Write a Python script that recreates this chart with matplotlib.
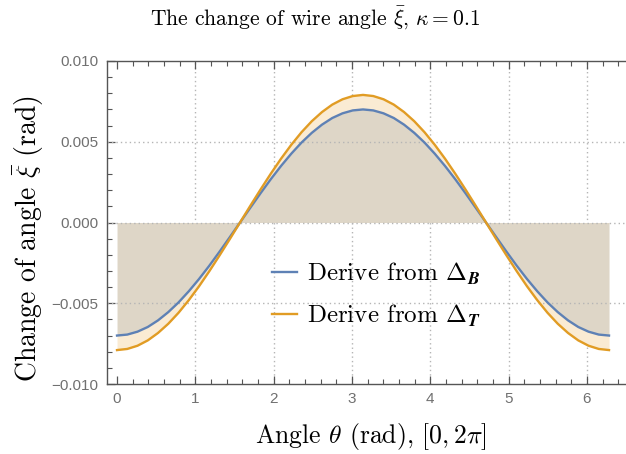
"""Wire-angle change over one turn, kappa = 0.1."""

import matplotlib

matplotlib.use("Agg")
import matplotlib.pyplot as plt
import numpy as np
from matplotlib.ticker import FixedLocator, FuncFormatter, MultipleLocator

# angle samples over [0, 2pi], 7.5 degree steps
theta = np.linspace(0.0, 2 * np.pi, 49)

# (rad)
xi_from_b = [
    -0.00700, -0.00694, -0.00676, -0.00647, -0.00606, -0.00555, -0.00495, -0.00426,
    -0.00350, -0.00268, -0.00181, -0.00091, 0.00000, 0.00091, 0.00181, 0.00268,
    0.00350, 0.00426, 0.00495, 0.00555, 0.00606, 0.00647, 0.00676, 0.00694,
    0.00700, 0.00694, 0.00676, 0.00647, 0.00606, 0.00555, 0.00495, 0.00426,
    0.00350, 0.00268, 0.00181, 0.00091, 0.00000, -0.00091, -0.00181, -0.00268,
    -0.00350, -0.00426, -0.00495, -0.00555, -0.00606, -0.00647, -0.00676, -0.00694,
    -0.00700,
]
xi_from_t = [
    -0.00790, -0.00783, -0.00763, -0.00730, -0.00684, -0.00627, -0.00559, -0.00481,
    -0.00395, -0.00302, -0.00204, -0.00103, 0.00000, 0.00103, 0.00204, 0.00302,
    0.00395, 0.00481, 0.00559, 0.00627, 0.00684, 0.00730, 0.00763, 0.00783,
    0.00790, 0.00783, 0.00763, 0.00730, 0.00684, 0.00627, 0.00559, 0.00481,
    0.00395, 0.00302, 0.00204, 0.00103, 0.00000, -0.00103, -0.00204, -0.00302,
    -0.00395, -0.00481, -0.00559, -0.00627, -0.00684, -0.00730, -0.00763, -0.00783,
    -0.00790,
]
labels = [r"Derive from $\Delta_{\boldsymbol{B}}$", r"Derive from $\Delta_{\boldsymbol{T}}$"]

x_ticks = [0, 1, 2, 3, 4, 5, 6]
y_ticks = [-0.010, -0.005, 0.000, 0.005, 0.010]

BLUE = "#5e81b5"
ORANGE = "#e19c24"
AXIS = "#555555"

plt.rcParams["mathtext.fontset"] = "cm"

fig = plt.figure(figsize=(6.26, 4.54), dpi=100)
ax = fig.add_axes([107 / 626, 1 - 384 / 454, 519 / 626, 323 / 454])

xi_b = np.array(xi_from_b)
xi_t = np.array(xi_from_t)
ax.fill_between(theta, 0, xi_b, color="#ded6c7", lw=0, zorder=1)
ax.fill_between(theta, xi_b, xi_t, color="#faebd3", lw=0, zorder=1)

# dotted grid, skipping the frame edges
for gx in [1, 2, 3, 4, 5, 6]:
    ax.axvline(gx, color="#b5b5b5", ls=(0, (1, 2.2)), lw=1.0, zorder=0.5)
for gy in [-0.005, 0.0, 0.005]:
    ax.axhline(gy, color="#b5b5b5", ls=(0, (1, 2.2)), lw=1.0, zorder=2)

ax.plot(theta, xi_from_b, color=BLUE, lw=1.7, label=labels[0], zorder=3)
ax.plot(theta, xi_from_t, color=ORANGE, lw=1.7, label=labels[1], zorder=3)

ax.set_xlim(-0.128, 6.5)
ax.set_ylim(-0.010, 0.010)

ax.xaxis.set_major_locator(FixedLocator(x_ticks))
ax.xaxis.set_minor_locator(MultipleLocator(0.2))
ax.yaxis.set_major_locator(FixedLocator(y_ticks))
ax.yaxis.set_minor_locator(MultipleLocator(0.001))
ax.yaxis.set_major_formatter(FuncFormatter(lambda v, _: f"{v:.3f}".replace("-", "\u2212")))

ax.tick_params(which="both", direction="in", top=True, right=False, color=AXIS,
               labelcolor="#707070", labelsize=11, pad=6)
ax.tick_params(which="major", length=6, width=0.9)
ax.tick_params(which="minor", length=3.5, width=0.8)
for lab in ax.get_xticklabels() + ax.get_yticklabels():
    lab.set_fontfamily("Liberation Sans")

ax.spines["right"].set_visible(False)
for side in ("left", "bottom", "top"):
    ax.spines[side].set_color(AXIS)
    ax.spines[side].set_linewidth(1.0)

fig.text(315 / 626, 1 - 18 / 454, r"The change of wire angle $\bar{\xi}$, $\kappa = 0.1$",
         family="cmr10", fontsize=15.5, ha="center", va="center")
ax.set_xlabel(r"Angle $\theta$ (rad), $[0, 2\pi]$", family="cmr10", fontsize=18.5, va="center")
ax.set_ylabel(r"Change of angle $\bar{\xi}$ (rad)", family="cmr10", fontsize=20, va="center")
ax.xaxis.set_label_coords(0.509, -0.161)
ax.yaxis.set_label_coords(-0.150, 0.449)

ax.legend(loc="center left", bbox_to_anchor=(0.318, 0.276), frameon=False,
          prop={"family": "cmr10", "size": 18}, handlelength=1.0, handletextpad=0.4,
          labelspacing=0.6, borderaxespad=0, borderpad=0)

fig.savefig("out.png", dpi=100)
